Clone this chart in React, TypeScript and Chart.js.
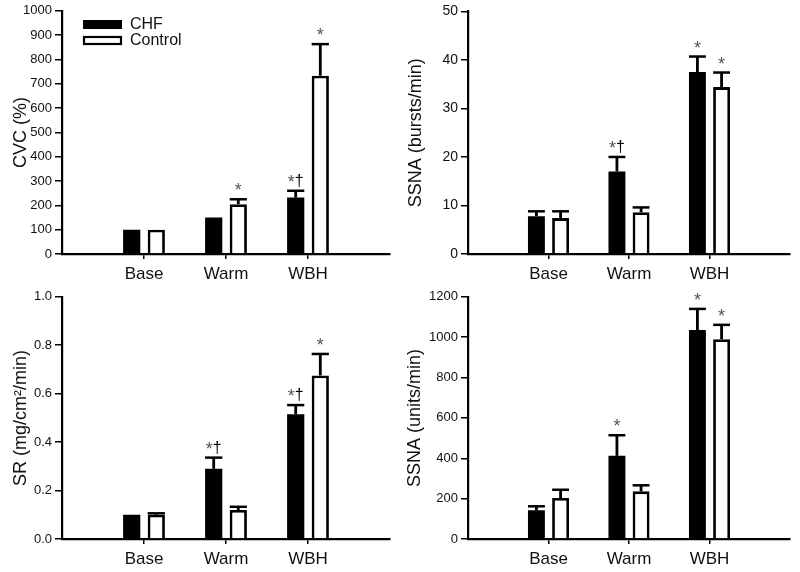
import React, { useEffect, useRef } from 'react';
import { Chart, registerables } from 'chart.js';

Chart.register(...registerables);

const categories = ['Base', 'Warm', 'WBH'];
const seriesNames = ['CHF', 'Control'];

// Panel A: CVC (%)
const cvcCHF = [100, 150, 232];
const cvcCHFErr = [0, 0, 28];
const cvcCtrl = [100, 205, 733];
const cvcCtrlErr = [0, 20, 130];
const cvcCHFMarks = ['', '', '*†'];
const cvcCtrlMarks = ['', '*', '*'];

// Panel B: SSNA (bursts/min)
const burstCHF = [7.8, 17.0, 37.5];
const burstCHFErr = [1.0, 3.0, 3.2];
const burstCtrl = [7.4, 8.6, 34.4];
const burstCtrlErr = [1.4, 1.0, 3.0];
const burstCHFMarks = ['', '*†', '*'];
const burstCtrlMarks = ['', '', '*'];

// Panel C: SR (mg/cm²/min)
const srCHF = [0.10, 0.29, 0.515];
const srCHFErr = [0, 0.046, 0.038];
const srCtrl = [0.10, 0.12, 0.675];
const srCtrlErr = [0.006, 0.013, 0.089];
const srCHFMarks = ['', '*†', '*†'];
const srCtrlMarks = ['', '', '*'];

// Panel D: SSNA (units/min)
const unitCHF = [142, 412, 1035];
const unitCHFErr = [20, 102, 105];
const unitCtrl = [203, 236, 990];
const unitCtrlErr = [41, 30, 71];
const unitCHFMarks = ['', '*', '*'];
const unitCtrlMarks = ['', '', '*'];

type Panel = {
  title: string;
  max: number;
  step: number;
  decimals: number;
  chf: number[];
  chfErr: number[];
  ctrl: number[];
  ctrlErr: number[];
  chfMarks: string[];
  ctrlMarks: string[];
  legend: boolean;
  x: number;
  y: number;
  w: number;
  h: number;
  axisLeft: number;
  padTop: number;
  xHeight: number;
  tickFont: number;
  titlePad: number;
};

const FONT = '"Liberation Sans", Arial, sans-serif';

const panels: Panel[] = [
  {
    title: 'CVC (%)', max: 1000, step: 100, decimals: 0,
    chf: cvcCHF, chfErr: cvcCHFErr, ctrl: cvcCtrl, ctrlErr: cvcCtrlErr,
    chfMarks: cvcCHFMarks, ctrlMarks: cvcCtrlMarks, legend: true,
    x: 0, y: 0, w: 400, h: 286, axisLeft: 62, padTop: 10, xHeight: 32, tickFont: 13, titlePad: 10,
  },
  {
    title: 'SSNA (bursts/min)', max: 50, step: 10, decimals: 0,
    chf: burstCHF, chfErr: burstCHFErr, ctrl: burstCtrl, ctrlErr: burstCtrlErr,
    chfMarks: burstCHFMarks, ctrlMarks: burstCtrlMarks, legend: false,
    x: 400, y: 0, w: 400, h: 286, axisLeft: 68, padTop: 10, xHeight: 32, tickFont: 14, titlePad: 5,
  },
  {
    title: 'SR (mg/cm²/min)', max: 1.0, step: 0.2, decimals: 1,
    chf: srCHF, chfErr: srCHFErr, ctrl: srCtrl, ctrlErr: srCtrlErr,
    chfMarks: srCHFMarks, ctrlMarks: srCtrlMarks, legend: false,
    x: 0, y: 286, w: 400, h: 286, axisLeft: 62, padTop: 9, xHeight: 33, tickFont: 13, titlePad: 10,
  },
  {
    title: 'SSNA (units/min)', max: 1200, step: 200, decimals: 0,
    chf: unitCHF, chfErr: unitCHFErr, ctrl: unitCtrl, ctrlErr: unitCtrlErr,
    chfMarks: unitCHFMarks, ctrlMarks: unitCtrlMarks, legend: false,
    x: 400, y: 286, w: 400, h: 286, axisLeft: 68, padTop: 9, xHeight: 33, tickFont: 13, titlePad: 4,
  },
];

function pad(arr: number[]): (number | null)[] {
  return [null, ...arr, null];
}

function makeOverlay(p: Panel) {
  return {
    id: 'overlay',
    afterDatasetsDraw(chart: any) {
      const ctx = chart.ctx as CanvasRenderingContext2D;
      const yScale = chart.scales.y;
      const groups = [
        { vals: p.chf, errs: p.chfErr, marks: p.chfMarks },
        { vals: p.ctrl, errs: p.ctrlErr, marks: p.ctrlMarks },
      ];
      ctx.save();
      groups.forEach((g, di) => {
        const meta = chart.getDatasetMeta(di);
        g.vals.forEach((v, i) => {
          const el = meta.data[i + 1];
          if (!el) return;
          const w = el.width;
          const top = yScale.getPixelForValue(v + g.errs[i]);
          const barTop = yScale.getPixelForValue(v);
          if (g.errs[i] > 0) {
            ctx.strokeStyle = '#000';
            ctx.lineWidth = 2.8;
            ctx.beginPath();
            ctx.moveTo(el.x, barTop);
            ctx.lineTo(el.x, top);
            ctx.stroke();
            ctx.lineWidth = 2.5;
            ctx.beginPath();
            ctx.moveTo(el.x - w / 2, top);
            ctx.lineTo(el.x + w / 2, top);
            ctx.stroke();
          }
          const mark = g.marks[i];
          if (mark) {
            const chars = Array.from(mark);
            const fonts = chars.map((c) => (c === '*' ? `18px ${FONT}` : `16px ${FONT}`));
            const widths = chars.map((c, k) => {
              ctx.font = fonts[k];
              return ctx.measureText(c).width;
            });
            const total = widths.reduce((a, b) => a + b, 0);
            let cx = el.x - total / 2;
            ctx.textBaseline = 'alphabetic';
            ctx.textAlign = 'left';
            chars.forEach((c, k) => {
              ctx.font = fonts[k];
              ctx.fillStyle = c === '*' ? '#555' : '#000';
              ctx.fillText(c, cx, c === '*' ? top - 3 : top - 5);
              cx += widths[k];
            });
          }
        });
      });
      if (p.legend) {
        ctx.fillStyle = '#000';
        ctx.fillRect(83, 20, 39, 9);
        ctx.fillStyle = '#fff';
        ctx.fillRect(84, 37, 37, 7);
        ctx.strokeStyle = '#000';
        ctx.lineWidth = 2.2;
        ctx.strokeRect(84, 37, 37, 7);
        ctx.fillStyle = '#111';
        ctx.font = `16px ${FONT}`;
        ctx.textBaseline = 'middle';
        ctx.textAlign = 'left';
        ctx.fillText(seriesNames[0], 130, 25);
        ctx.fillText(seriesNames[1], 130, 41);
      }
      ctx.restore();
    },
  };
}

function PanelChart({ p }: { p: Panel }) {
  const ref = useRef<HTMLCanvasElement | null>(null);
  useEffect(() => {
    if (!ref.current) return;
    const labels = ['', ...categories, ''];
    const chart = new Chart(ref.current, {
      type: 'bar',
      data: {
        labels,
        datasets: [
          {
            label: seriesNames[0],
            data: pad(p.chf),
            backgroundColor: '#000',
            borderColor: '#000',
            borderWidth: 0,
            categoryPercentage: 0.6,
            barPercentage: 0.7,
          },
          {
            label: seriesNames[1],
            data: pad(p.ctrl),
            backgroundColor: '#fff',
            borderColor: '#000',
            borderWidth: 2.8,
            categoryPercentage: 0.6,
            barPercentage: 0.7,
          },
        ],
      },
      options: {
        responsive: false,
        animation: false,
        devicePixelRatio: 1,
        layout: { padding: { left: 0, top: p.padTop, right: 10, bottom: 0 } },
        plugins: {
          legend: { display: false },
          tooltip: { enabled: false },
        },
        scales: {
          x: {
            type: 'category',
            offset: false,
            grid: {
              offset: false,
              drawOnChartArea: false,
              drawTicks: true,
              tickLength: 5,
              lineWidth: 1.5,
              color: (c: any) => (c.index >= 1 && c.index <= 3 ? '#000' : 'rgba(0,0,0,0)'),
            },
            border: { display: true, color: '#000', width: 2.2 },
            ticks: {
              autoSkip: false,
              maxRotation: 0,
              padding: 5,
              color: '#111',
              font: { family: FONT, size: 17 },
            },
            afterFit: (s: any) => {
              s.height = p.xHeight;
            },
          },
          y: {
            min: 0,
            max: p.max,
            grid: {
              drawOnChartArea: false,
              drawTicks: true,
              tickLength: 7,
              lineWidth: 1.5,
              color: '#000',
            },
            border: { display: true, color: '#000', width: 2.2 },
            ticks: {
              stepSize: p.step,
              padding: 3,
              color: '#111',
              font: { family: FONT, size: p.tickFont },
              callback: (v: any) => Number(v).toFixed(p.decimals),
            },
            title: {
              display: true,
              text: p.title,
              color: '#111',
              font: { family: FONT, size: 18 },
              padding: { top: p.titlePad, bottom: 0 },
            },
            afterFit: (s: any) => {
              s.width = p.axisLeft;
            },
          },
        },
      },
      plugins: [makeOverlay(p)],
    } as any);
    return () => chart.destroy();
  }, [p]);
  return (
    <div style={{ position: 'absolute', left: p.x, top: p.y, width: p.w, height: p.h }}>
      <canvas ref={ref} width={p.w} height={p.h} style={{ display: 'block' }} />
    </div>
  );
}

export default function App() {
  return (
    <div
      style={{
        position: 'absolute',
        left: 0,
        top: 0,
        width: 800,
        height: 572,
        background: '#fff',
        overflow: 'hidden',
      }}
    >
      {panels.map((p, i) => (
        <PanelChart key={i} p={p} />
      ))}
    </div>
  );
}
